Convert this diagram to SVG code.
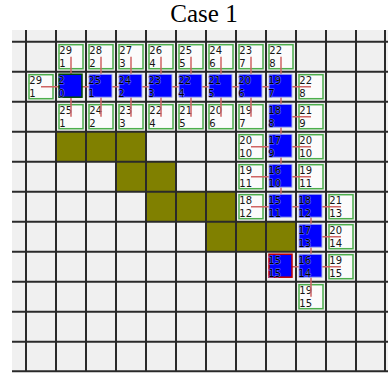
<svg xmlns="http://www.w3.org/2000/svg" width="388" height="374" viewBox="0 0 388 374">
<style>
.bg{fill:#f0f0f0}
.ol{fill:#808000}
.gl{stroke:#2a2a2a;stroke-width:2;fill:none}
.op{fill:#fbfbfb;stroke:#4cae4c;stroke-width:1.5}
.cl{fill:#0000ff;stroke:#a8b4e8;stroke-width:1}
.st{fill:#0000ff;stroke:#004a00;stroke-width:1.5}
.gx{fill:#0000ff;stroke:#c00000;stroke-width:1.5}
.lk{stroke:#d06464;stroke-width:1.5;fill:none}
text{font-family:"DejaVu Sans","Liberation Sans",sans-serif;font-size:10px;fill:#151515}
.b text{fill:#000;stroke:#6a78ff;stroke-width:0.9;paint-order:stroke}
.ti{font-family:"Liberation Serif","Times New Roman",serif;font-size:25px;fill:#000}
</style>
<defs>
<rect id="ro" class="op" x="3" y="3" width="24" height="24"/>
<rect id="rc" class="cl" x="3" y="2.5" width="23" height="23"/>
</defs>
<text class="ti" x="204" y="22" text-anchor="middle">Case 1</text>
<rect class="bg" x="12" y="30" width="376" height="342"/>
<g id="obstacles">
<rect class="ol" x="56" y="131.7" width="90" height="30"/>
<rect class="ol" x="116" y="161.7" width="60" height="30"/>
<rect class="ol" x="146" y="191.7" width="90" height="30"/>
<rect class="ol" x="206" y="221.7" width="90" height="30"/>
</g>
<g id="grid" class="gl">
<path d="M26 30V372M56 30V372M86 30V372M116 30V372M146 30V372M176 30V372M206 30V372M236 30V372M266 30V372M296 30V372M326 30V372M356 30V372M385 30V372"/>
<path d="M12 41.7H388M12 71.7H388M12 101.7H388M12 131.7H388M12 161.7H388M12 191.7H388M12 221.7H388M12 251.7H388M12 281.7H388M12 311.7H388M12 341.7H388M12 371.2H388"/>
</g>
<!-- open nodes -->
<g id="o_1_0" transform="translate(56,41.7)"><use href="#ro"/><text x="3.3" y="12.3">29</text><text x="3.3" y="25">1</text></g>
<g id="o_2_0" transform="translate(86,41.7)"><use href="#ro"/><text x="3.3" y="12.3">28</text><text x="3.3" y="25">2</text></g>
<g id="o_3_0" transform="translate(116,41.7)"><use href="#ro"/><text x="3.3" y="12.3">27</text><text x="3.3" y="25">3</text></g>
<g id="o_4_0" transform="translate(146,41.7)"><use href="#ro"/><text x="3.3" y="12.3">26</text><text x="3.3" y="25">4</text></g>
<g id="o_5_0" transform="translate(176,41.7)"><use href="#ro"/><text x="3.3" y="12.3">25</text><text x="3.3" y="25">5</text></g>
<g id="o_6_0" transform="translate(206,41.7)"><use href="#ro"/><text x="3.3" y="12.3">24</text><text x="3.3" y="25">6</text></g>
<g id="o_7_0" transform="translate(236,41.7)"><use href="#ro"/><text x="3.3" y="12.3">23</text><text x="3.3" y="25">7</text></g>
<g id="o_8_0" transform="translate(266,41.7)"><use href="#ro"/><text x="3.3" y="12.3">22</text><text x="3.3" y="25">8</text></g>
<g id="o_0_1" transform="translate(26,71.7)"><use href="#ro"/><text x="3.3" y="12.3">29</text><text x="3.3" y="25">1</text></g>
<g id="o_9_1" transform="translate(296,71.7)"><use href="#ro"/><text x="3.3" y="12.3">22</text><text x="3.3" y="25">8</text></g>
<g id="o_1_2" transform="translate(56,101.7)"><use href="#ro"/><text x="3.3" y="12.3">25</text><text x="3.3" y="25">1</text></g>
<g id="o_2_2" transform="translate(86,101.7)"><use href="#ro"/><text x="3.3" y="12.3">24</text><text x="3.3" y="25">2</text></g>
<g id="o_3_2" transform="translate(116,101.7)"><use href="#ro"/><text x="3.3" y="12.3">23</text><text x="3.3" y="25">3</text></g>
<g id="o_4_2" transform="translate(146,101.7)"><use href="#ro"/><text x="3.3" y="12.3">22</text><text x="3.3" y="25">4</text></g>
<g id="o_5_2" transform="translate(176,101.7)"><use href="#ro"/><text x="3.3" y="12.3">21</text><text x="3.3" y="25">5</text></g>
<g id="o_6_2" transform="translate(206,101.7)"><use href="#ro"/><text x="3.3" y="12.3">20</text><text x="3.3" y="25">6</text></g>
<g id="o_7_2" transform="translate(236,101.7)"><use href="#ro"/><text x="3.3" y="12.3">19</text><text x="3.3" y="25">7</text></g>
<g id="o_9_2" transform="translate(296,101.7)"><use href="#ro"/><text x="3.3" y="12.3">21</text><text x="3.3" y="25">9</text></g>
<g id="o_7_3" transform="translate(236,131.7)"><use href="#ro"/><text x="3.3" y="12.3">20</text><text x="3.3" y="25">10</text></g>
<g id="o_9_3" transform="translate(296,131.7)"><use href="#ro"/><text x="3.3" y="12.3">20</text><text x="3.3" y="25">10</text></g>
<g id="o_7_4" transform="translate(236,161.7)"><use href="#ro"/><text x="3.3" y="12.3">19</text><text x="3.3" y="25">11</text></g>
<g id="o_9_4" transform="translate(296,161.7)"><use href="#ro"/><text x="3.3" y="12.3">19</text><text x="3.3" y="25">11</text></g>
<g id="o_7_5" transform="translate(236,191.7)"><use href="#ro"/><text x="3.3" y="12.3">18</text><text x="3.3" y="25">12</text></g>
<g id="o_10_5" transform="translate(326,191.7)"><use href="#ro"/><text x="3.3" y="12.3">21</text><text x="3.3" y="25">13</text></g>
<g id="o_10_6" transform="translate(326,221.7)"><use href="#ro"/><text x="3.3" y="12.3">20</text><text x="3.3" y="25">14</text></g>
<g id="o_10_7" transform="translate(326,251.7)"><use href="#ro"/><text x="3.3" y="12.3">19</text><text x="3.3" y="25">15</text></g>
<g id="o_9_8" transform="translate(296,281.7)"><use href="#ro"/><text x="3.3" y="12.3">19</text><text x="3.3" y="25">15</text></g>
<!-- connectors -->
<g id="connectors" class="lk">
<path d="M71 56.7V86.7M101 56.7V86.7M131 56.7V86.7M161 56.7V86.7M191 56.7V86.7M221 56.7V86.7M251 56.7V86.7M281 56.7V86.7"/>
<path d="M71 116.7V86.7M101 116.7V86.7M131 116.7V86.7M161 116.7V86.7M191 116.7V86.7M221 116.7V86.7M251 116.7V86.7"/>
<path d="M41 86.7H311M281 86.7V206.7M281 116.7H311M251 146.7H311M251 176.7H311M251 206.7H341M311 206.7V296.7M311 236.7H341M281 266.7H341"/>
</g>
<!-- closed nodes -->
<g id="start" class="b" transform="translate(56,71.7)"><rect class="st" x="3" y="2.5" width="23" height="23"/><text x="2.3" y="12.3">2</text><text x="2.3" y="25">0</text></g>
<g id="c_2_1" class="b" transform="translate(86,71.7)"><use href="#rc"/><text x="2.3" y="12.3">25</text><text x="2.3" y="25">1</text></g>
<g id="c_3_1" class="b" transform="translate(116,71.7)"><use href="#rc"/><text x="2.3" y="12.3">24</text><text x="2.3" y="25">2</text></g>
<g id="c_4_1" class="b" transform="translate(146,71.7)"><use href="#rc"/><text x="2.3" y="12.3">23</text><text x="2.3" y="25">3</text></g>
<g id="c_5_1" class="b" transform="translate(176,71.7)"><use href="#rc"/><text x="2.3" y="12.3">22</text><text x="2.3" y="25">4</text></g>
<g id="c_6_1" class="b" transform="translate(206,71.7)"><use href="#rc"/><text x="2.3" y="12.3">21</text><text x="2.3" y="25">5</text></g>
<g id="c_7_1" class="b" transform="translate(236,71.7)"><use href="#rc"/><text x="2.3" y="12.3">20</text><text x="2.3" y="25">6</text></g>
<g id="c_8_1" class="b" transform="translate(266,71.7)"><use href="#rc"/><text x="2.3" y="12.3">19</text><text x="2.3" y="25">7</text></g>
<g id="c_8_2" class="b" transform="translate(266,101.7)"><use href="#rc"/><text x="2.3" y="12.3">18</text><text x="2.3" y="25">8</text></g>
<g id="c_8_3" class="b" transform="translate(266,131.7)"><use href="#rc"/><text x="2.3" y="12.3">17</text><text x="2.3" y="25">9</text></g>
<g id="c_8_4" class="b" transform="translate(266,161.7)"><use href="#rc"/><text x="2.3" y="12.3">16</text><text x="2.3" y="25">10</text></g>
<g id="c_8_5" class="b" transform="translate(266,191.7)"><use href="#rc"/><text x="2.3" y="12.3">15</text><text x="2.3" y="25">11</text></g>
<g id="c_9_5" class="b" transform="translate(296,191.7)"><use href="#rc"/><text x="2.3" y="12.3">18</text><text x="2.3" y="25">12</text></g>
<g id="c_9_6" class="b" transform="translate(296,221.7)"><use href="#rc"/><text x="2.3" y="12.3">17</text><text x="2.3" y="25">13</text></g>
<g id="c_9_7" class="b" transform="translate(296,251.7)"><use href="#rc"/><text x="2.3" y="12.3">16</text><text x="2.3" y="25">14</text></g>
<g id="goal" class="b" transform="translate(266,251.7)"><rect class="gx" x="3" y="2.5" width="23" height="23"/><text x="2.3" y="12.3">15</text><text x="2.3" y="25">15</text></g>
</svg>
